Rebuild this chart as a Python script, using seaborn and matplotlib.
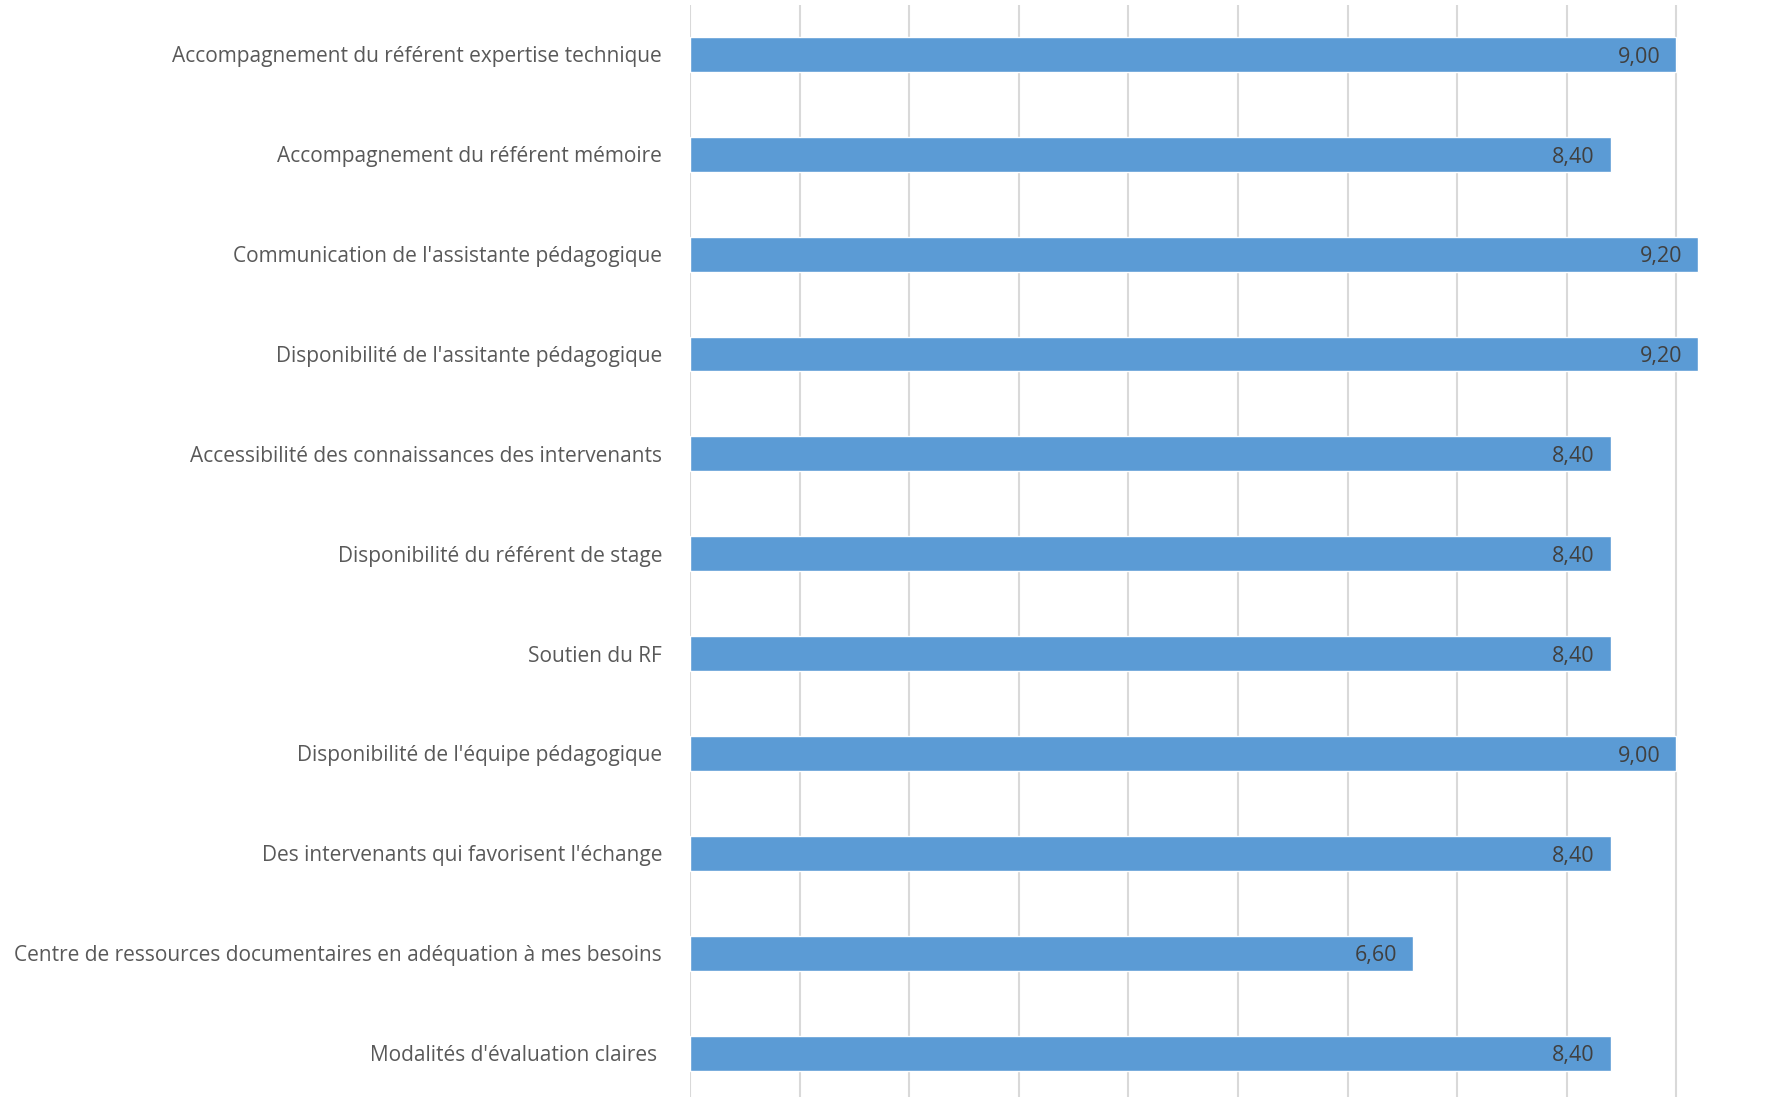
import pandas as pd
import matplotlib
matplotlib.use("Agg")
import matplotlib.pyplot as plt
import seaborn as sns

categories = [
    "Accompagnement du référent expertise technique",
    "Accompagnement du référent mémoire",
    "Communication de l'assistante pédagogique",
    "Disponibilité de l'assitante pédagogique",
    "Accessibilité des connaissances des intervenants",
    "Disponibilité du référent de stage",
    "Soutien du RF",
    "Disponibilité de l'équipe pédagogique",
    "Des intervenants qui favorisent l'échange",
    "Centre de ressources documentaires en adéquation à mes besoins",
    "Modalités d'évaluation claires ",
]
scores = [9.00, 8.40, 9.20, 9.20, 8.40, 8.40, 8.40, 9.00, 8.40, 6.60, 8.40]
score_labels = ["9,00", "8,40", "9,20", "9,20", "8,40", "8,40", "8,40", "9,00", "8,40", "6,60", "8,40"]

data = pd.DataFrame({"Critère": categories, "Note": scores})

sns.set_style("white")
plt.rcParams["font.family"] = ["Open Sans", "DejaVu Sans"]

fig = plt.figure(figsize=(17.75, 10.97), dpi=100)
ax = fig.add_axes([690 / 1775, 0.0, 1 - 690 / 1775, 1 - 4.5 / 1097])

sns.barplot(data=data, y="Critère", x="Note", orient="h", color="#5B9BD5",
            saturation=1, width=0.35, ax=ax)

ax.set_xlim(0, 9.9)
ax.set_ylim(10.44, -0.5)
ax.set_xticks(range(0, 10))
ax.xaxis.grid(True, color="#D9D9D9", linewidth=1.5)
ax.set_axisbelow(True)
ax.set_xticklabels([])
ax.tick_params(axis="x", length=0)
ax.tick_params(axis="y", length=0, pad=20, labelsize=15, labelcolor="#595959")
ax.set_xlabel("")
ax.set_ylabel("")
for s in ax.spines.values():
    s.set_visible(False)

for i, (v, lab) in enumerate(zip(scores, score_labels)):
    ax.annotate(lab, xy=(v, i), xytext=(-11.5, -2), textcoords="offset points",
                ha="right", va="center", fontsize=15.5, color="#404040")

fig.savefig("out.png", dpi=100)
